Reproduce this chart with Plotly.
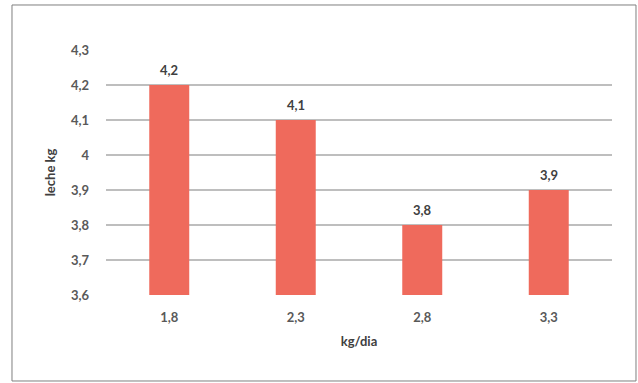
import plotly.graph_objects as go

categories = ["1,8", "2,3", "2,8", "3,3"]
values = [4.2, 4.1, 3.8, 3.9]
y_ticks = [3.6, 3.7, 3.8, 3.9, 4.0, 4.1, 4.2, 4.3]
y_tick_labels = ["3,6", "3,7", "3,8", "3,9", "4", "4,1", "4,2", "4,3"]

BAR_COLOR = "#EF6A5C"
TEXT_COLOR = "#595959"
FONT = "Lato"

fig = go.Figure()
fig.add_trace(go.Bar(
    x=categories, y=values,
    marker=dict(color=BAR_COLOR, line=dict(width=0)),
    hoverinfo="skip",
))

for c, v in zip(categories, values):
    fig.add_annotation(
        x=c, y=v, text="<b>" + f"{v:.1f}".replace(".", ",") + "</b>",
        showarrow=False, yanchor="bottom", yshift=5,
        font=dict(family=FONT, size=13, color="#404040"),
    )

# outer chart border
fig.add_shape(type="rect", xref="paper", yref="paper",
              x0=-0.1858, x1=1.0474, y0=-0.351, y1=1.1837,
              line=dict(color="#7F7F7F", width=1), layer="below")

fig.update_layout(
    width=638, height=383,
    margin=dict(l=106, r=26, t=50, b=88),
    paper_bgcolor="white", plot_bgcolor="white",
    separators=",.",
    showlegend=False,
    bargap=0.684,
    font=dict(family=FONT, size=13, color=TEXT_COLOR),
    xaxis=dict(
        type="category",
        tickvals=categories,
        ticktext=["<b>" + c + "</b>" for c in categories],
        tickfont=dict(family=FONT, size=13, color=TEXT_COLOR),
        showgrid=False, showline=False, zeroline=False,
        ticks="", ticklabelstandoff=13,
        title=dict(text="<b>kg/dia</b>", standoff=12,
                   font=dict(family=FONT, size=13, color="#404040")),
    ),
    yaxis=dict(
        range=[3.6, 4.3],
        tickvals=y_ticks,
        ticktext=["<b>" + t + "</b>" for t in y_tick_labels],
        tickfont=dict(family=FONT, size=13, color=TEXT_COLOR),
        showgrid=True, gridcolor="#BEBEBE", gridwidth=1.5,
        zeroline=False, showline=False,
        ticks="", ticklabelstandoff=16,
        title=dict(text="<b>leche kg</b>", standoff=12,
                   font=dict(family=FONT, size=13, color="#404040")),
    ),
)

fig.write_html("out.html")
